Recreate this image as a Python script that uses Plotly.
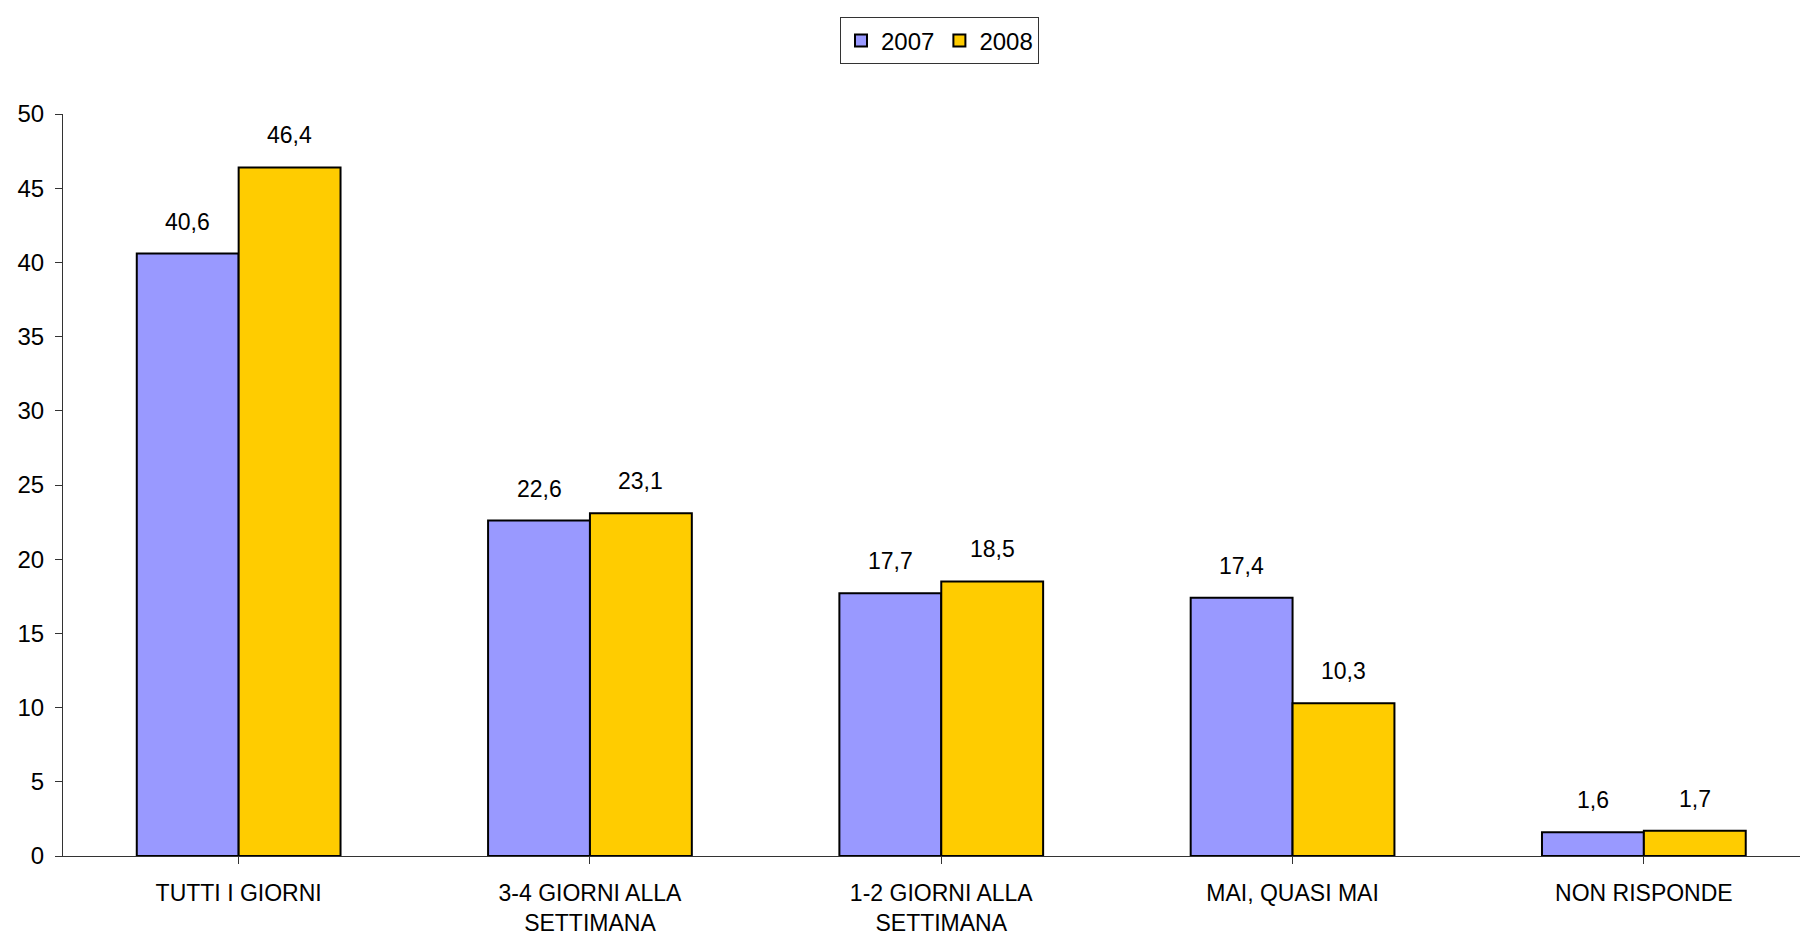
import plotly.graph_objects as go

categories = ["TUTTI I GIORNI", "3-4 GIORNI ALLA<br>SETTIMANA", "1-2 GIORNI ALLA<br>SETTIMANA",
              "MAI, QUASI MAI", "NON RISPONDE"]
values_2007 = [40.6, 22.6, 17.7, 17.4, 1.6]
values_2008 = [46.4, 23.1, 18.5, 10.3, 1.7]
series_names = ["2007", "2008"]
y_ticks = [0, 5, 10, 15, 20, 25, 30, 35, 40, 45, 50]

FONT = "Liberation Sans, Arial, sans-serif"
colors = ["#9999FF", "#FFCC00"]

def fmt(v):
    return f"{v:.1f}".replace(".", ",")

fig = go.Figure()
for name, vals, col in zip(series_names, [values_2007, values_2008], colors):
    fig.add_trace(go.Bar(
        name=name, x=list(range(len(categories))), y=vals,
        marker=dict(color=col, line=dict(color="black", width=2)),
    ))

# value labels above bars
half = 0.145
for i, (a, b) in enumerate(zip(values_2007, values_2008)):
    for off, v in ((-half, a), (half, b)):
        fig.add_annotation(x=i + off, y=v, text=fmt(v), showarrow=False,
                           yanchor="middle", yshift=32,
                           font=dict(family=FONT, size=23, color="black"))

# page body has an 8px margin: compensate so plot area lands where reference has it
fig.update_layout(
    width=1808, height=940,
    paper_bgcolor="white", plot_bgcolor="white",
    margin=dict(l=55, r=0, t=106, b=92, autoexpand=False),
    barmode="group", bargap=0.42, bargroupgap=0,
    font=dict(family=FONT, size=23, color="black"),
    legend=dict(orientation="h", x=0.5, xanchor="center", xref="paper",
                y=0.99, yref="container", yanchor="top",
                bordercolor="#333", borderwidth=1, bgcolor="white",
                font=dict(family=FONT, size=24), traceorder="normal",
                itemwidth=30),
    showlegend=True,
)

fig.update_xaxes(
    tickmode="array", tickvals=list(range(len(categories))), ticktext=categories,
    range=[-0.5, 4.49], showline=True, linecolor="#333", linewidth=1,
    ticks="outside", tickson="boundaries", ticklen=7, tickcolor="#333",
    showgrid=False, zeroline=False, tickfont=dict(family=FONT, size=23),
    ticklabelstandoff=9,
)
fig.update_yaxes(
    range=[0, 50], tickvals=y_ticks, showline=True, linecolor="#333", linewidth=1,
    ticks="outside", ticklen=7, tickcolor="#333", showgrid=False, zeroline=False,
    tickfont=dict(family=FONT, size=24), ticklabelstandoff=6,
)

fig.write_html("out.html")
